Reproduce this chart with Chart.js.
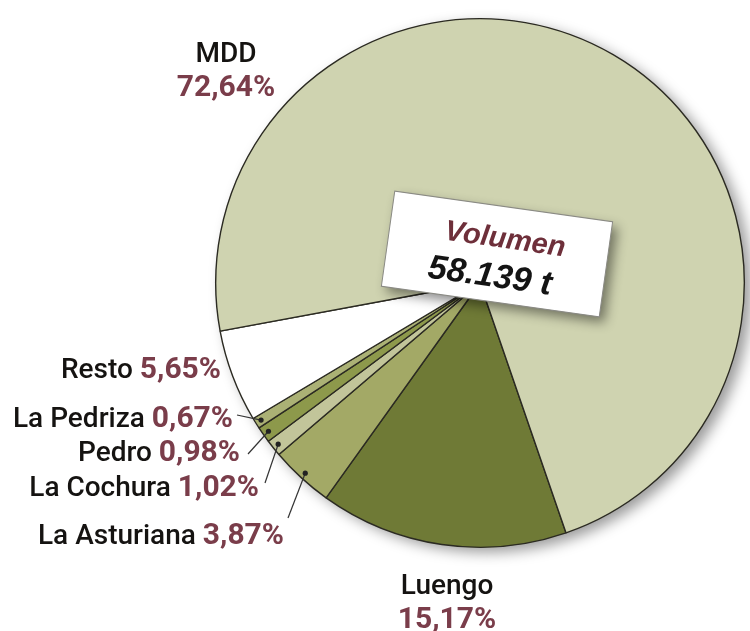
<!DOCTYPE html>
<html>
<head>
<meta charset="utf-8">
<script src="https://cdn.jsdelivr.net/npm/chart.js@4.4.1/dist/chart.umd.min.js"></script>
<style>
  html, body { margin: 0; padding: 0; background: #fff; }
  #wrap { width: 750px; height: 631px; }
</style>
</head>
<body>
<div id="wrap"><canvas id="myChart" width="750" height="631"></canvas></div>
<script>
// data, clockwise from the MDD / Luengo border
var categories = ["Luengo", "La Asturiana", "La Cochura", "Pedro", "La Pedriza", "Resto", "MDD"];
var shares = [15.17, 3.87, 1.02, 0.98, 0.67, 5.65, 72.64];
var totalTitle = "Volumen";
var totalValue = "58.139 t";

var sliceColors = ["#6f7a36", "#a3a966", "#c2c59a", "#8d994b", "#abb175", "#ffffff", "#cfd3b0"];

function pct(v) { return v.toFixed(2).replace(".", ",") + "%"; }

// where each label sits (x, baseline, leader line start)
var labelPos = {
  "MDD":          { x: 226, y: 62,  stacked: true },
  "Luengo":       { x: 447, y: 594, stacked: true },
  "Resto":        { x: 221, y: 378 },
  "La Pedriza":   { x: 233, y: 427, lx: 237, ly: 415 },
  "Pedro":        { x: 240, y: 461, lx: 248, ly: 454 },
  "La Cochura":   { x: 259, y: 496, lx: 265, ly: 483 },
  "La Asturiana": { x: 284, y: 544, lx: 288, ly: 518 }
};

var nameFont = "500 28px Roboto, 'Liberation Sans', sans-serif";
var pctFont = "bold 30px Roboto, 'Liberation Sans', sans-serif";
var nameColor = "#151311";
var pctColor = "#7a3d4a";

var shadowPlugin = {
  id: "pieShadow",
  beforeDatasetsDraw: function(chart) {
    var arc = chart.getDatasetMeta(0).data[0];
    if (!arc) return;
    var ctx = chart.ctx;
    ctx.save();
    ctx.shadowColor = "rgba(0,0,0,0.4)";
    ctx.shadowBlur = 14;
    ctx.shadowOffsetX = 7;
    ctx.shadowOffsetY = 5;
    ctx.fillStyle = "#cfd3b0";
    ctx.beginPath();
    ctx.arc(arc.x, arc.y, arc.outerRadius, 0, Math.PI * 2);
    ctx.fill();
    ctx.restore();
  }
};

var labelPlugin = {
  id: "pieLabels",
  afterDatasetsDraw: function(chart) {
    var ctx = chart.ctx;
    var meta = chart.getDatasetMeta(0);
    ctx.save();
    ctx.textBaseline = "alphabetic";
    categories.forEach(function(name, i) {
      var p = labelPos[name];
      var txt = pct(shares[i]);
      if (p.stacked) {
        ctx.textAlign = "center";
        ctx.font = nameFont; ctx.fillStyle = nameColor;
        ctx.fillText(name, p.x, p.y);
        ctx.font = pctFont; ctx.fillStyle = pctColor;
        ctx.fillText(txt, p.x, p.y + 34);
      } else {
        ctx.textAlign = "right";
        ctx.font = pctFont; ctx.fillStyle = pctColor;
        ctx.fillText(txt, p.x, p.y);
        var w = ctx.measureText(txt).width;
        ctx.font = nameFont; ctx.fillStyle = nameColor;
        ctx.fillText(name + " ", p.x - w, p.y);
      }
      if (p.lx !== undefined) {
        var a = meta.data[i];
        var mid = (a.startAngle + a.endAngle) / 2;
        var r = a.outerRadius - 6;
        var dx = a.x + Math.cos(mid) * r;
        var dy = a.y + Math.sin(mid) * r;
        ctx.strokeStyle = "#333";
        ctx.lineWidth = 1.2;
        ctx.beginPath();
        ctx.moveTo(p.lx, p.ly);
        ctx.lineTo(dx, dy);
        ctx.stroke();
        ctx.fillStyle = "#222";
        ctx.beginPath();
        ctx.arc(dx, dy, 2.6, 0, Math.PI * 2);
        ctx.fill();
      }
    });

    // centre box
    ctx.translate(497, 254);
    ctx.rotate(8 * Math.PI / 180);
    ctx.shadowColor = "rgba(0,0,0,0.45)";
    ctx.shadowBlur = 12;
    ctx.shadowOffsetX = 5;
    ctx.shadowOffsetY = 6;
    ctx.fillStyle = "#ffffff";
    ctx.fillRect(-110, -48, 220, 96);
    ctx.shadowColor = "transparent";
    ctx.strokeStyle = "#8a8a84";
    ctx.lineWidth = 1;
    ctx.strokeRect(-110, -48, 220, 96);
    ctx.textAlign = "center";
    ctx.font = "italic bold 29px 'Liberation Sans Narrow', 'Liberation Sans', sans-serif";
    ctx.fillStyle = "#6e2f3a";
    ctx.fillText(totalTitle, 6, -7);
    ctx.font = "italic bold 34px 'Liberation Sans Narrow', 'Liberation Sans', sans-serif";
    ctx.fillStyle = "#141414";
    ctx.fillText(totalValue, -4, 33);
    ctx.restore();
  }
};

var ctx = document.getElementById("myChart").getContext('2d');
var myChart = new Chart(ctx, {
  type: 'pie',
  data: {
    labels: categories,
    datasets: [{
      data: shares,
      backgroundColor: sliceColors,
      borderColor: "#2b2a22",
      borderWidth: 1.4
    }]
  },
  options: {
    responsive: false,
    animation: false,
    rotation: 161,
    layout: { padding: { left: 215, right: 5, top: 18, bottom: 83 } },
    plugins: {
      legend: { display: false },
      tooltip: { enabled: false }
    }
  },
  plugins: [shadowPlugin, labelPlugin]
});
</script>
</body>
</html>
